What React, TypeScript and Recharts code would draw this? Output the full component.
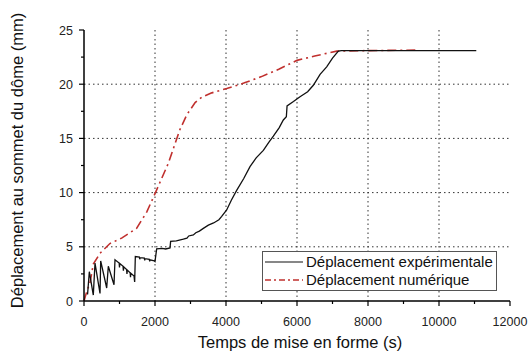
import React from 'react';
import { LineChart, Line, XAxis, YAxis, CartesianGrid, Legend } from 'recharts';

// Experimental displacement at the dome top (time in s, displacement in mm)
const expTime = [
  100, 150, 262, 310, 451, 470, 639, 685, 845, 873,
  990, 1000, 1010, 1100, 1110, 1120, 1200, 1210, 1220, 1300, 1310, 1320, 1410, 1427, 1446,
  1560, 1570, 1580, 1700, 1710, 1720, 1840, 1850, 1860, 1980, 2000, 2047,
  2200, 2300, 2423, 2440, 2600, 2798, 2900, 2950, 3080, 3150, 3250, 3362, 3503, 3650, 3800, 3879, 4019,
  4150, 4300, 4500, 4676, 4850, 5052, 5200, 5334, 5500, 5615, 5700, 5720, 5900, 6085, 6300, 6460,
  6650, 6836, 7000, 7165, 7250, 9000, 11050,
];
const expDisp = [
  0.6, 2.7, 0.55, 3.5, 0.7, 3.7, 1.2, 3.2, 1.5, 3.8,
  3.5, 3.1, 3.45, 3.2, 2.8, 3.15, 2.9, 2.5, 2.85, 2.6, 2.2, 2.55, 2.3, 1.75, 4.1,
  4.05, 3.85, 4.0, 3.95, 3.75, 3.9, 3.85, 3.65, 3.8, 3.7, 3.65, 4.8,
  4.85, 4.8, 4.9, 5.5, 5.55, 5.7, 5.8, 6.0, 6.1, 6.3, 6.45, 6.7, 7.0, 7.2, 7.5, 7.8, 8.4,
  9.3, 10.2, 11.3, 12.4, 13.2, 13.9, 14.6, 15.2, 16.0, 16.7, 17.0, 18.0, 18.4, 18.85, 19.3, 19.9,
  20.9, 21.6, 22.4, 23.05, 23.1, 23.1, 23.1,
];

// Numerical displacement
const numTime = [
  0, 80, 170, 262, 450, 730, 1060, 1480, 1766, 2000, 2375, 2700, 2900, 3130, 3320,
  3600, 4020, 4500, 5000, 5500, 6000, 6500, 7120, 8000, 9400,
];
const numDisp = [
  0, 0.9, 1.7, 3.4, 4.4, 5.3, 5.8, 6.7, 8.2, 9.9, 12.7, 15.8, 17.2, 18.3, 18.8,
  19.2, 19.6, 20.1, 20.7, 21.4, 22.2, 22.6, 23.05, 23.1, 23.15,
];

const xTicks = [0, 1000, 2000, 3000, 4000, 5000, 6000, 7000, 8000, 9000, 10000, 11000, 12000];
const yTicks = [0, 2.5, 5, 7.5, 10, 12.5, 15, 17.5, 20, 22.5, 25];
const xGrid = [2000, 4000, 6000, 8000, 10000];
const yGrid = [5, 10, 15, 20];

const seriesNames = ['Déplacement expérimentale', 'Déplacement numérique'];

const expData = expTime.map((t, i) => ({ t, d: expDisp[i] }));
const numData = numTime.map((t, i) => ({ t, d: numDisp[i] }));

const FONT = '"Liberation Sans", Arial, sans-serif';
const RED = '#c0302e';
const DASH = '9 4 2 4';

const XTick = ({ x, y, payload }: any) => {
  const major = payload.value % 2000 === 0;
  const y0 = y - 8;
  return (
    <g>
      <line x1={x} x2={x} y1={y0} y2={y0 + (major ? 5 : 3)} stroke="#000" strokeWidth={1.2} />
      {major && (
        <text x={x} y={y0 + 25} textAnchor="middle" fontSize={12.5} fill="#222" fontFamily={FONT}>
          {payload.value}
        </text>
      )}
    </g>
  );
};

const YTick = ({ x, y, payload }: any) => {
  const major = payload.value % 5 === 0;
  const x0 = x + 8;
  return (
    <g>
      <line x1={x0} x2={x0 - (major ? 5 : 3)} y1={y} y2={y} stroke="#000" strokeWidth={1.2} />
      {major && (
        <text x={x0 - 11} y={y + 4.5} textAnchor="end" fontSize={12.5} fill="#222" fontFamily={FONT}>
          {payload.value}
        </text>
      )}
    </g>
  );
};

const XTitle = ({ viewBox }: any) => (
  <text
    x={viewBox.x + viewBox.width / 2 + 3}
    y={viewBox.y + 47}
    textAnchor="middle"
    fontSize={16.5}
    fill="#111"
    fontFamily={FONT}
  >
    Temps de mise en forme (s)
  </text>
);

const YTitle = ({ viewBox }: any) => {
  const cx = 23;
  const cy = viewBox.y + viewBox.height / 2 - 5;
  return (
    <text
      x={cx}
      y={cy}
      transform={`rotate(-90, ${cx}, ${cy})`}
      textAnchor="middle"
      fontSize={16.5}
      fill="#111"
      fontFamily={FONT}
    >
      Déplacement au sommet du dôme (mm)
    </text>
  );
};

const LegendBox = () => (
  <div
    style={{
      border: '1px solid #555',
      background: '#fff',
      width: 233,
      padding: '1px 0',
      fontFamily: FONT,
      fontSize: 15,
      color: '#111',
    }}
  >
    {seriesNames.map((name, i) => (
      <div key={name} style={{ display: 'flex', alignItems: 'center', height: 18 }}>
        <svg width={40} height={10} style={{ marginLeft: 2, marginRight: 1 }}>
          <line
            x1={0}
            x2={38}
            y1={5}
            y2={5}
            stroke={i === 0 ? '#111' : RED}
            strokeWidth={i === 0 ? 1.2 : 1.6}
            strokeDasharray={i === 0 ? undefined : '6 3 2 3'}
          />
        </svg>
        <span style={{ lineHeight: '18px' }}>{name}</span>
      </div>
    ))}
  </div>
);

export default function App() {
  return (
    <div style={{ position: 'absolute', left: 0, top: 0, background: '#fff' }}>
      <LineChart width={530} height={358} margin={{ top: 30, right: 20, bottom: 0, left: 0 }}>
        <CartesianGrid
          horizontalValues={yGrid}
          verticalValues={xGrid}
          stroke="#333"
          strokeDasharray="1.5 3"
        />
        <XAxis
          type="number"
          dataKey="t"
          domain={[0, 12000]}
          ticks={xTicks}
          interval={0}
          height={57}
          tickSize={5}
          tickMargin={3}
          tickLine={false}
          tick={<XTick />}
          axisLine={{ stroke: '#000', strokeWidth: 1.5 }}
          label={<XTitle />}
        />
        <XAxis
          xAxisId="top"
          orientation="top"
          type="number"
          domain={[0, 12000]}
          height={0}
          tick={false}
          tickLine={false}
          axisLine={{ stroke: '#000', strokeWidth: 1.5 }}
        />
        <YAxis
          type="number"
          domain={[0, 25]}
          ticks={yTicks}
          interval={0}
          width={84}
          tickSize={5}
          tickMargin={3}
          tickLine={false}
          tick={<YTick />}
          axisLine={{ stroke: '#000', strokeWidth: 1.5 }}
          label={<YTitle />}
        />
        <YAxis
          yAxisId="right"
          orientation="right"
          type="number"
          domain={[0, 25]}
          width={0}
          tick={false}
          tickLine={false}
          axisLine={{ stroke: '#000', strokeWidth: 1.5 }}
        />
        <Legend
          layout="vertical"
          align="center"
          verticalAlign="middle"
          content={<LegendBox />}
          wrapperStyle={{ position: 'absolute', left: 262, top: 251, width: 'auto' }}
        />
        <Line
          data={numData}
          dataKey="d"
          name={seriesNames[1]}
          type="linear"
          stroke={RED}
          strokeWidth={1.6}
          strokeDasharray={DASH}
          dot={false}
          isAnimationActive={false}
        />
        <Line
          data={expData}
          dataKey="d"
          name={seriesNames[0]}
          type="linear"
          stroke="#111"
          strokeWidth={1.3}
          dot={false}
          isAnimationActive={false}
        />
      </LineChart>
    </div>
  );
}
